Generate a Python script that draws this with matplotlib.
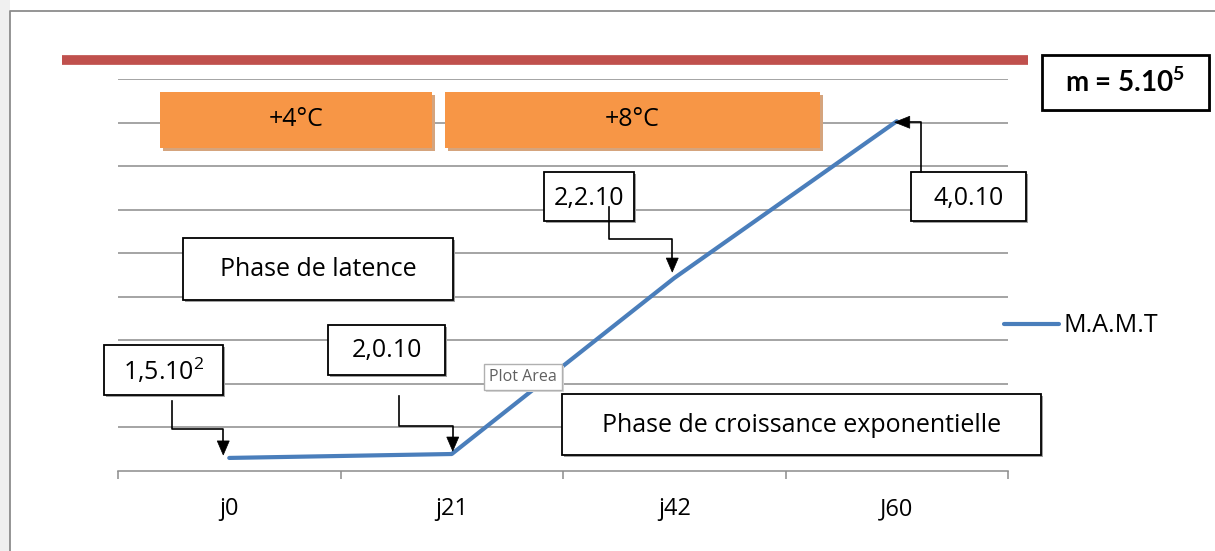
import matplotlib
matplotlib.use("Agg")
import matplotlib.pyplot as plt
from matplotlib.transforms import Affine2D
from matplotlib.patches import Rectangle, Polygon
from matplotlib.lines import Line2D

# ---- data ----
categories = ["j0", "j21", "j42", "J60"]
series_name = "M.A.M.T"
values = [0.30, 0.39, 4.43, 8.03]
temp_labels = ["+4°C", "+8°C"]
point_labels = ["1,5.10$^{2}$", "2,0.10", "2,2.10", "4,0.10"]
phase_labels = ["Phase de latence", "Phase de croissance exponentielle"]
mass_label = r"m = 5.10$^\mathbf{5}$"

plt.rcParams["font.family"] = ["Open Sans", "DejaVu Sans"]
plt.rcParams["mathtext.fontset"] = "custom"
plt.rcParams["mathtext.rm"] = "Open Sans"
plt.rcParams["mathtext.bf"] = "Lato:bold"

W, H = 1215, 551
fig = plt.figure(figsize=(W / 100, H / 100), dpi=100)
fig.patch.set_facecolor("white")
px = Affine2D().scale(1 / W, -1 / H).translate(0, 1) + fig.transFigure

GRID = "#8C8C8C"
FS = 18

# outer frame
fig.add_artist(Rectangle((0, 0), 10, H, transform=px, facecolor="#F0F0F0", edgecolor="none", zorder=0))
fig.add_artist(Line2D([10, 10, W], [H, 11, 11], transform=px, color=GRID, lw=1.3, zorder=1))

ax = fig.add_axes([118 / W, 1 - 471 / H, (1008 - 118) / W, (471 - 79) / H])
ax.set_facecolor("none")
ax.set_xlim(-0.5, 3.5)
ax.set_ylim(0, 9)
ax.set_yticks(range(1, 10))
ax.yaxis.grid(True, color=GRID, lw=1.1)
ax.tick_params(axis="y", left=False, labelleft=False)
for s in ["left", "right", "top"]:
    ax.spines[s].set_visible(False)
ax.spines["bottom"].set_color(GRID)
ax.spines["bottom"].set_linewidth(1.1)
ax.set_xticks([-0.5, 0.5, 1.5, 2.5, 3.5])
ax.set_xticklabels([])
ax.tick_params(axis="x", which="major", direction="out", length=5.5, width=1.1, color=GRID)
ax.set_xticks(range(len(categories)), minor=True)
ax.set_xticklabels(categories, minor=True, fontsize=17)
ax.tick_params(axis="x", which="minor", length=0, pad=19)
ax.set_axisbelow(True)

line, = ax.plot(range(len(values)), values, color="#4A7EBB", lw=3, solid_capstyle="round",
                label=series_name, zorder=3)

leg = fig.legend(handles=[line], loc="center left", bbox_to_anchor=(1004 / W, 1 - 326 / H),
                 frameon=False, fontsize=FS, handlelength=2.2, handletextpad=0.2,
                 borderpad=0, borderaxespad=0)

# red top bar
fig.add_artist(Line2D([62, 1028], [60, 60], transform=px, color="#C0504D", lw=7,
                      solid_capstyle="butt", zorder=2))


def box(x0, y0, x1, y1, text, face="white", edge="black", shadow="#A0A0A0", fs=FS,
        weight="normal", family=None, tcolor="black", lw=1.3, sh=2, dy=0):
    fig.add_artist(Rectangle((x0 + sh, y0 + sh), x1 - x0, y1 - y0, transform=px,
                             facecolor=shadow, edgecolor="none", zorder=4))
    fig.add_artist(Rectangle((x0, y0), x1 - x0, y1 - y0, transform=px,
                             facecolor=face, edgecolor=edge, lw=lw, zorder=5))
    kw = {}
    if family:
        kw["family"] = family
    fig.text((x0 + x1) / 2, (y0 + y1) / 2 + dy, text, transform=px, ha="center", va="center",
             fontsize=fs, fontweight=weight, color=tcolor, zorder=6, **kw)


ORANGE = "#F79646"
box(160, 92, 432, 148, temp_labels[0], face=ORANGE, edge="none", shadow="#D5A47D", sh=3, lw=0)
box(445, 92, 820, 148, temp_labels[1], face=ORANGE, edge="none", shadow="#D5A47D", sh=3, lw=0)
box(183, 238, 453, 300, phase_labels[0], dy=1)
box(562, 394, 1041, 455, phase_labels[1], dy=1)
box(104, 345, 223, 395, point_labels[0], dy=1)
box(328, 325, 445, 375, point_labels[1], dy=1)
box(544, 172, 634, 221, point_labels[2], dy=2)
box(911, 172, 1026, 221, point_labels[3], dy=2)
box(1042, 55, 1209, 110, mass_label, fs=20, weight="bold", family=["Lato", "DejaVu Sans"], lw=2)
box(484, 364, 562, 390, "Plot Area", edge="#B0B0B0", shadow="#D8D8D8", fs=11.5,
    tcolor="#606060", lw=1)

fig.canvas.draw()


def data_px(i):
    x, y = ax.transData.transform((i, values[i]))
    return x, H - y


def elbow_down(start, i, dx, dy, mid_y):
    tx, ty = data_px(i)
    tx, ty = tx + dx, ty - dy
    sx, sy = start
    fig.add_artist(Line2D([sx, sx, tx, tx], [sy, mid_y, mid_y, ty - 12], transform=px,
                          color="black", lw=1.2, zorder=7))
    fig.add_artist(Polygon([(tx - 6, ty - 14), (tx + 6, ty - 14), (tx, ty)], closed=True,
                           transform=px, facecolor="black", edgecolor="black", lw=0.5, zorder=7))


elbow_down((172, 401), 0, -6, 3, 429)
elbow_down((399, 396), 1, 1, 3, 426)
elbow_down((609, 207), 2, -2, 6, 239)

# J60 arrow pointing left
tx, ty = data_px(3)
tx, ty = tx - 2, ty + 1
fig.add_artist(Line2D([921, 921, tx + 12], [172, ty, ty], transform=px, color="black", lw=1.2, zorder=7))
fig.add_artist(Polygon([(tx + 15, ty - 6), (tx + 15, ty + 6), (tx, ty)], closed=True,
                       transform=px, facecolor="black", edgecolor="black", lw=0.5, zorder=7))

fig.savefig("out.png", dpi=100)
